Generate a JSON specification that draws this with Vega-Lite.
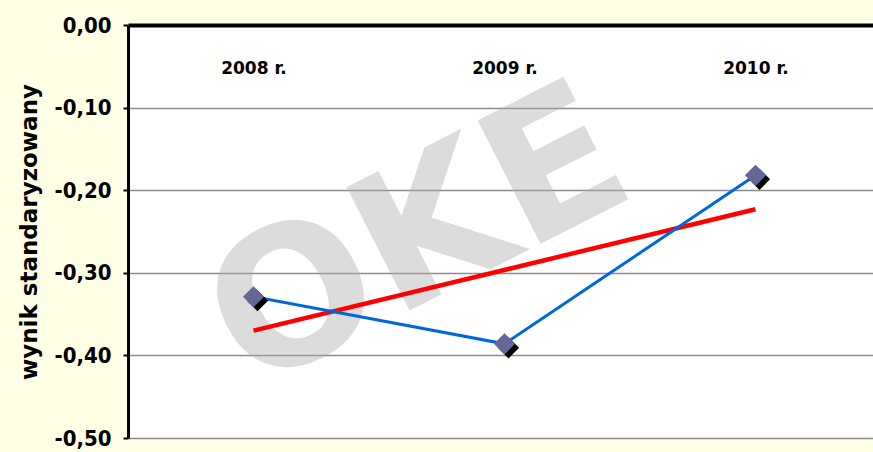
{
  "$schema": "https://vega.github.io/schema/vega-lite/v6.json",
  "autosize": "none",
  "width": 753,
  "height": 413,
  "padding": {"left": 128, "top": 25, "right": 0, "bottom": 14},
  "background": "#FFFFE6",
  "config": {
    "view": {"stroke": null, "fill": "white"},
    "font": "DejaVu Sans Condensed"
  },
  "datasets": {
    "scores": [
      {"year": "2008 r.", "value": -0.329},
      {"year": "2009 r.", "value": -0.386},
      {"year": "2010 r.", "value": -0.182}
    ],
    "trend": [
      {"year": "2008 r.", "value": -0.370},
      {"year": "2010 r.", "value": -0.223}
    ],
    "mark": [
      {"year": "2009 r.", "value": -0.25, "label": "OKE"}
    ]
  },
  "encoding": {
    "x": {
      "field": "year",
      "type": "ordinal",
      "scale": {"type": "point", "padding": 0.5, "domain": ["2008 r.", "2009 r.", "2010 r."]},
      "axis": {
        "orient": "top",
        "title": null,
        "ticks": false,
        "domainColor": "black",
        "domainWidth": 4,
        "labelAngle": 0,
        "labelBaseline": "middle",
        "labelPadding": -43,
        "labelFont": "DejaVu Sans",
        "labelFontWeight": "bold",
        "labelFontSize": 17,
        "labelColor": "black",
        "grid": false
      }
    },
    "y": {
      "field": "value",
      "type": "quantitative",
      "scale": {"domain": [-0.5, 0], "nice": false, "zero": false},
      "axis": {
        "values": [0, -0.1, -0.2, -0.3, -0.4, -0.5],
        "labelExpr": "replace(replace(format(datum.value, '.2f'), '.', ','), '\u2212', '-')",
        "title": "wynik standaryzowany",
        "titleFont": "DejaVu Sans",
        "titleFontWeight": "bold",
        "titleFontSize": 23,
        "titleColor": "black",
        "titlePadding": 12,
        "labelFont": "DejaVu Sans Condensed",
        "labelFontWeight": "bold",
        "labelFontSize": 22,
        "labelColor": "black",
        "labelPadding": 12,
        "domainColor": "black",
        "domainWidth": 3,
        "tickColor": "black",
        "tickWidth": 2,
        "tickSize": 5,
        "grid": true,
        "gridColor": "#8c8c8c",
        "gridWidth": 1.5
      }
    }
  },
  "layer": [
    {
      "data": {"name": "mark"},
      "mark": {"type": "text", "fontSize": 190, "fontWeight": "bold", "font": "DejaVu Sans", "angle": -27, "color": "#aaaaaa", "opacity": 0.4, "xOffset": -85, "yOffset": 10, "align": "center", "baseline": "middle"},
      "encoding": {"text": {"field": "label"}}
    },
    {
      "data": {"name": "trend"},
      "mark": {"type": "line", "color": "#FF0000", "strokeWidth": 4.5},
      "encoding": {}
    },
    {
      "data": {"name": "scores"},
      "mark": {"type": "line", "color": "#0066DD", "strokeWidth": 3},
      "encoding": {}
    },
    {
      "data": {"name": "scores"},
      "mark": {"type": "point", "shape": "diamond", "filled": true, "size": 450, "color": "black", "opacity": 1, "xOffset": 4, "yOffset": 4},
      "encoding": {}
    },
    {
      "data": {"name": "scores"},
      "mark": {"type": "point", "shape": "diamond", "filled": true, "size": 450, "color": "#666699", "opacity": 1},
      "encoding": {}
    }
  ]
}
